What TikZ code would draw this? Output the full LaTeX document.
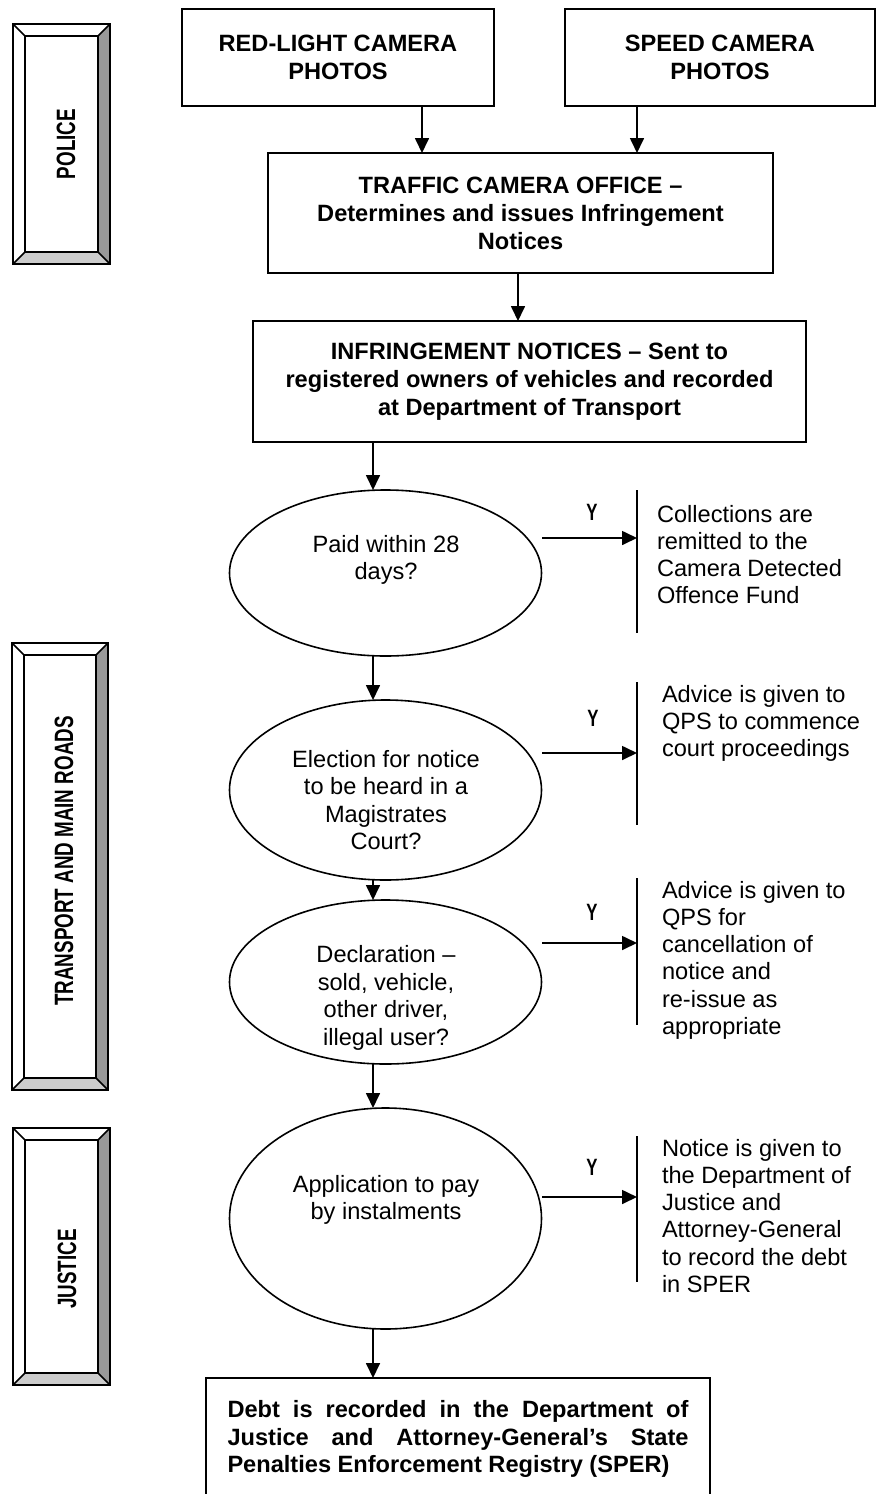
\documentclass[tikz,border=0pt]{standalone}
\usepackage{fontspec}
\setmainfont{Liberation Sans}
\newfontfamily\condfont{Liberation Sans}[FakeStretch=0.71]
\usetikzlibrary{arrows.meta,shapes.geometric}
\definecolor{facedark}{RGB}{153,153,153}
\definecolor{facelight}{RGB}{204,204,204}
\newcommand\lanebox[4]{%
  \fill[white] (#1,#2) -- (#3,#2) -- (#3-12,#2+12) -- (#1+12,#2+12) -- cycle;
  \fill[white] (#1,#2) -- (#1+12,#2+12) -- (#1+12,#4-12) -- (#1,#4) -- cycle;
  \fill[facedark] (#3,#2) -- (#3,#4) -- (#3-12,#4-12) -- (#3-12,#2+12) -- cycle;
  \fill[facelight] (#1,#4) -- (#3,#4) -- (#3-12,#4-12) -- (#1+12,#4-12) -- cycle;
  \draw[laneline] (#1,#2) rectangle (#3,#4);
  \draw[laneline] (#1+12,#2+12) rectangle (#3-12,#4-12);
  \draw[laneline] (#1,#2) -- (#1+12,#2+12) (#3,#2) -- (#3-12,#2+12)
                  (#1,#4) -- (#1+12,#4-12) (#3,#4) -- (#3-12,#4-12);
}
\begin{document}
\begin{tikzpicture}[x=1pt,y=-1pt,
  every node/.style={inner sep=0pt, outer sep=0pt},
  laneline/.style={line width=1.5pt, line join=miter},
  fbox/.style={draw, line width=1.7pt, rectangle, align=center,
    font=\bfseries\fontsize{23.6pt}{28pt}\selectfont},
  ell/.style={draw, line width=1.6pt, ellipse, minimum width=312pt},
  etext/.style={align=center, font=\fontsize{23.6pt}{27.6pt}\selectfont},
  stext/.style={align=left, anchor=north west, font=\fontsize{23.6pt}{27.3pt}\selectfont},
  ylab/.style={font=\condfont\bfseries\fontsize{23.6pt}{24pt}\selectfont},
  lane/.style={rotate=90, font=\condfont\bfseries\fontsize{26.5pt}{27pt}\selectfont},
  arr/.style={line width=1.7pt, -{Triangle[length=15pt,width=14pt]}},
  bar/.style={line width=1.7pt},
]
\path[use as bounding box, fill=white] (0,0) rectangle (876,1494);

% lane boxes
\lanebox{13}{24}{110}{264}
\node[lane] (police) at (66,144) {POLICE};
\lanebox{12}{643}{108}{1090}
\node[lane] (tmr) at (64,861) {TRANSPORT AND MAIN ROADS};
\lanebox{13}{1128}{110}{1385}
\node[lane] (justice) at (67,1269) {JUSTICE};

% top boxes
\node[fbox, minimum width=312pt, minimum height=97pt] (red) at (338,57.5) {RED-LIGHT CAMERA\\PHOTOS};
\node[fbox, minimum width=310pt, minimum height=97pt] (speed) at (720,57.5) {SPEED CAMERA\\PHOTOS};
\node[fbox, minimum width=505pt, minimum height=120pt] (tco) at (520.5,213) {TRAFFIC CAMERA OFFICE –\\Determines and issues Infringement\\Notices};
\node[fbox, minimum width=553pt, minimum height=121pt] (inf) at (529.5,381.5) {INFRINGEMENT NOTICES – Sent to\\registered owners of vehicles and recorded\\at Department of Transport};

\coordinate (ax1) at (422,0);
\coordinate (ax2) at (637,0);
\coordinate (ax3) at (518,0);
\coordinate (ax4) at (373,0);
\draw[arr] (ax1 |- red.south) -- (ax1 |- tco.north);
\draw[arr] (ax2 |- speed.south) -- (ax2 |- tco.north);
\draw[arr] (ax3 |- tco.south) -- (ax3 |- inf.north);

% ellipses
\node[ell, minimum height=166pt] (e1) at (385.5,573) {};
\node[ell, minimum height=180pt] (e2) at (385.5,790) {};
\node[ell, minimum height=164pt] (e3) at (385.5,982) {};
\node[ell, minimum height=221pt] (e4) at (385.5,1218.5) {};

\node[etext] (t1) at (386,560) {Paid within 28\\days?};
\node[etext] (t2) at (386,800) {Election for notice\\to be heard in a\\Magistrates\\Court?};
\node[etext] (t3) at (386,998) {Declaration –\\sold, vehicle,\\other driver,\\illegal user?};
\node[etext] (t4) at (386,1200) {Application to pay\\by instalments};

\draw[arr] (ax4 |- inf.south) -- (ax4 |- e1.north);
\draw[arr] (ax4 |- e1.south) -- (ax4 |- e2.north);
\draw[arr] (ax4 |- e2.south) -- (ax4 |- e3.north);
\draw[arr] (ax4 |- e3.south) -- (ax4 |- e4.north);

% bottom box
\node[fbox, minimum width=504pt, minimum height=122pt] (debt) at (458,1439) {%
  \begin{minipage}{461pt}\bfseries\fontsize{23.6pt}{27.5pt}\selectfont
  Debt is recorded in the Department of\linebreak
  Justice and Attorney-General’s State\linebreak
  Penalties Enforcement Registry (SPER)\end{minipage}};
\draw[arr] (ax4 |- e4.south) -- (ax4 |- debt.north);

% side outcomes
\coordinate (b1t) at (637,490); \coordinate (b1b) at (637,633);
\coordinate (b2t) at (637,682); \coordinate (b2b) at (637,825);
\coordinate (b3t) at (637,878); \coordinate (b3b) at (637,1025);
\coordinate (b4t) at (637,1136); \coordinate (b4b) at (637,1282);
\draw[bar] (b1t) -- (b1b);
\draw[bar] (b2t) -- (b2b);
\draw[bar] (b3t) -- (b3b);
\draw[bar] (b4t) -- (b4b);

\coordinate (s1) at (542,538);
\coordinate (s2) at (542,753);
\coordinate (s3) at (542,943);
\coordinate (s4) at (542,1197);
\draw[arr] (s1) -- (s1 -| b1t);
\draw[arr] (s2) -- (s2 -| b2t);
\draw[arr] (s3) -- (s3 -| b3t);
\draw[arr] (s4) -- (s4 -| b4t);

\node[ylab] (y1) at (592,512) {Y};
\node[ylab] (y2) at (593,718) {Y};
\node[ylab] (y3) at (592,912) {Y};
\node[ylab] (y4) at (592,1167) {Y};

\node[stext] (o1) at (657,504) {\rule{0pt}{18pt}Collections are\\remitted to the\\Camera Detected\\Offence Fund};
\node[stext] (o2) at (662,684) {\rule{0pt}{18pt}Advice is given to\\QPS to commence\\court proceedings};
\node[stext] (o3) at (662,880) {\rule{0pt}{18pt}Advice is given to\\QPS for\\cancellation of\\notice and\\re-issue as\\appropriate};
\node[stext] (o4) at (662,1138) {\rule{0pt}{18pt}Notice is given to\\the Department of\\Justice and\\Attorney-General\\to record the debt\\in SPER};
\end{tikzpicture}
\end{document}
